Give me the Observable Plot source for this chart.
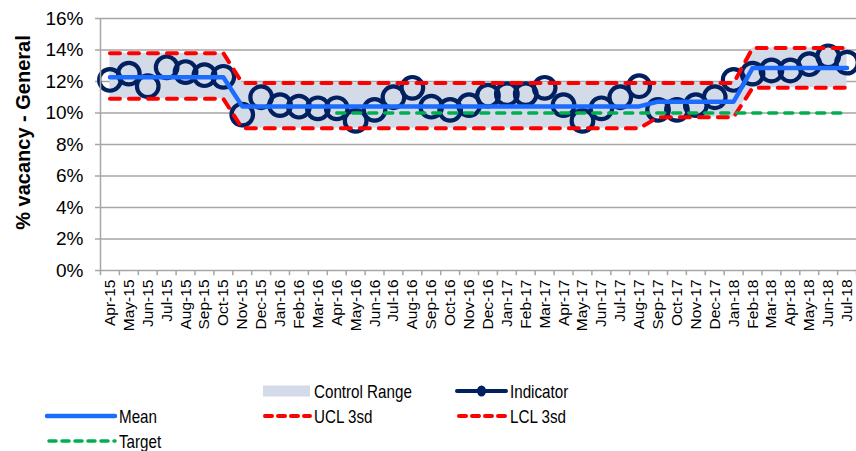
<!DOCTYPE html>
<html><head><meta charset="utf-8">
<script src="https://cdn.jsdelivr.net/npm/d3@7"></script>
<script src="https://cdn.jsdelivr.net/npm/@observablehq/plot@0.6"></script>
<style>
body{margin:0;background:#fff;}
#chart{position:relative;width:856px;height:451px;font-family:Arial,"Liberation Sans",sans-serif;}
#chart svg{display:block;}
</style></head><body><div id="chart"></div>
<script>
const months = ["Apr-15","May-15","Jun-15","Jul-15","Aug-15","Sep-15","Oct-15","Nov-15","Dec-15","Jan-16","Feb-16","Mar-16","Apr-16","May-16","Jun-16","Jul-16","Aug-16","Sep-16","Oct-16","Nov-16","Dec-16","Jan-17","Feb-17","Mar-17","Apr-17","May-17","Jun-17","Jul-17","Aug-17","Sep-17","Oct-17","Nov-17","Dec-17","Jan-18","Feb-18","Mar-18","Apr-18","May-18","Jun-18","Jul-18"];
const indicator = [12.1,12.5,11.7,12.9,12.6,12.4,12.3,
  9.9,11.0,10.5,10.4,10.3,10.3,9.5,10.2,11.0,11.6,10.4,10.2,10.5,11.1,11.2,11.2,11.6,10.5,9.5,10.3,11.0,11.7,
  10.2,10.2,10.5,11.0,12.1,
  12.5,12.7,12.7,13.1,13.6,13.2];
const mean = [12.27,12.27,12.27,12.27,12.27,12.27,12.27,
  10.42,10.42,10.42,10.42,10.42,10.42,10.42,10.42,10.42,10.42,10.42,10.42,10.42,10.42,10.42,10.42,10.42,10.42,10.42,10.42,10.42,10.42,
  10.72,10.72,10.72,10.72,10.72,
  12.85,12.85,12.85,12.85,12.85,12.85];
const ucl = [13.8,13.8,13.8,13.8,13.8,13.8,13.8,
  11.9,11.9,11.9,11.9,11.9,11.9,11.9,11.9,11.9,11.9,11.9,11.9,11.9,11.9,11.9,11.9,11.9,11.9,11.9,11.9,11.9,11.9,
  11.9,11.9,11.9,11.9,11.9,
  14.12,14.12,14.12,14.12,14.12,14.12];
const lcl = [10.9,10.9,10.9,10.9,10.9,10.9,10.9,
  9.03,9.03,9.03,9.03,9.03,9.03,9.03,9.03,9.03,9.03,9.03,9.03,9.03,9.03,9.03,9.03,9.03,9.03,9.03,9.03,9.03,9.03,
  9.73,9.73,9.73,9.73,9.73,
  11.6,11.6,11.6,11.6,11.6,11.6];
const target = [null,null,null,null,null,null,null,null,null,null,null,null,
  10,10,10,10,10,10,10,10,10,10,10,10,10,10,10,10,10,10,10,10,10,10,10,10,10,10,10,10];
const yTicks = [0,2,4,6,8,10,12,14,16];
const yTitle = "% vacancy - General";
const legendItems = [
  {label:"Control Range", kind:"area", col:1, row:0},
  {label:"Indicator", kind:"indicator", col:2, row:0},
  {label:"Mean", kind:"mean", col:0, row:1},
  {label:"UCL 3sd", kind:"ucl", col:1, row:1},
  {label:"LCL 3sd", kind:"lcl", col:2, row:1},
  {label:"Target", kind:"target", col:0, row:2}
];

const C = {area:"#D3DAE8", ind:"#002060", mean:"#1C6DFF", red:"#FF0000", green:"#00B050", grid:"#A6A6A6"};
const idx = d3.range(months.length);
const rows = idx.map(i => ({i, month: months[i], ind: indicator[i], mean: mean[i], ucl: ucl[i], lcl: lcl[i], target: target[i]}));
const bounds = d3.range(months.length + 1).map(i => i - 0.5);
const yLabels = yTicks.map(d => d + "%");

const plot = Plot.plot({
  width: 856, height: 375,
  marginLeft: 100, marginRight: 0, marginTop: 18, marginBottom: 105,
  style: {fontFamily: "Arial, 'Liberation Sans', sans-serif", fontSize: "14px", color: "#000", background: "#fff", overflow: "visible"},
  x: {domain: [-0.5, months.length - 0.5], axis: null},
  y: {domain: [0, 16], ticks: yTicks, tickFormat: d => d + "%", tickSize: 5, tickPadding: 12, label: null},
  marks: [
    Plot.ruleY(yTicks.slice(1), {stroke: C.grid, strokeWidth: 1.5}),
    Plot.areaY(rows, {x: "i", y1: "lcl", y2: "ucl", fill: C.area}),
    Plot.dot(rows, {x: "i", y: "ind", r: 10.8, stroke: C.ind, strokeWidth: 4.2, fill: "none"}),
    Plot.lineY(rows, {x: "i", y: "mean", stroke: C.mean, strokeWidth: 4.5}),
    Plot.lineY(rows, {x: "i", y: "ucl", stroke: C.red, strokeWidth: 4, strokeDasharray: "10,9", strokeLinecap: "round"}),
    Plot.lineY(rows, {x: "i", y: "lcl", stroke: C.red, strokeWidth: 4, strokeDasharray: "10,9", strokeLinecap: "round"}),
    Plot.lineY(rows.filter(d => d.target != null), {x: "i", y: "target", stroke: C.green, strokeWidth: 3.5, strokeDasharray: "8,8", strokeLinecap: "round"}),
    Plot.ruleX([-0.5], {stroke: C.grid, strokeWidth: 1.5}),
    Plot.ruleY([0], {stroke: C.grid, strokeWidth: 1.5}),
    Plot.ruleX(bounds, {x: d => d, y1: 0, y2: -0.33, stroke: C.grid, strokeWidth: 1.5}),
    Plot.text(rows, {x: "i", y: () => 0, text: "month", rotate: -90, textAnchor: "end", lineAnchor: "middle", dy: 9, fontSize: 15.5, fill: "#000"})
  ]
});
const root = document.getElementById("chart");
root.appendChild(plot);

// axis styling
d3.select(plot).selectAll("g[aria-label='y-axis tick'], g[aria-label='y-axis'] line, g[aria-label='y-axis'] path")
  .attr("stroke", C.grid).attr("stroke-width", 1.5);
d3.select(plot).selectAll("text").each(function() {
  if (yLabels.includes(this.textContent)) {
    this.setAttribute("font-size", "19");
    this.style.fontSize = "19px";
    this.setAttribute("fill", "#000");
  }
});

d3.select(plot).append("text")
  .attr("transform", "translate(23,132.5) rotate(-90)")
  .attr("text-anchor", "middle").attr("dominant-baseline", "central")
  .attr("font-weight", "bold").attr("font-size", 20).attr("fill", "#000")
  .attr("font-family", "Arial, 'Liberation Sans', sans-serif")
  .text(yTitle);

// legend below the chart
const colX = [47, 263, 457];
const colW = [68, 47, 49];
const rowY = [16, 41, 66];
const leg = d3.select(root).append("svg").attr("width", 856).attr("height", 76).style("display", "block");
legendItems.forEach(it => {
  const x0 = colX[it.col], x1 = x0 + colW[it.col], y = rowY[it.row];
  const g = leg.append("g");
  if (it.kind === "area") {
    g.append("rect").attr("x", x0).attr("y", y - 5.5).attr("width", x1 - x0).attr("height", 11).attr("fill", C.area);
  } else if (it.kind === "indicator") {
    g.append("line").attr("x1", x0).attr("x2", x1).attr("y1", y).attr("y2", y).attr("stroke", C.ind).attr("stroke-width", 4).attr("stroke-linecap", "round");
    g.append("ellipse").attr("cx", (x0 + x1) / 2).attr("cy", y).attr("rx", 4.5).attr("ry", 5.5).attr("fill", C.ind);
  } else if (it.kind === "mean") {
    g.append("line").attr("x1", x0).attr("x2", x1).attr("y1", y).attr("y2", y).attr("stroke", C.mean).attr("stroke-width", 4.5).attr("stroke-linecap", "round");
  } else if (it.kind === "ucl" || it.kind === "lcl") {
    g.append("line").attr("x1", x0 + 2).attr("x2", x1).attr("y1", y).attr("y2", y).attr("stroke", C.red).attr("stroke-width", 4).attr("stroke-dasharray", "7,6").attr("stroke-linecap", "round");
  } else if (it.kind === "target") {
    g.append("line").attr("x1", x0 + 2).attr("x2", x1).attr("y1", y).attr("y2", y).attr("stroke", C.green).attr("stroke-width", 3.5).attr("stroke-dasharray", "7,6").attr("stroke-linecap", "round");
  }
  const t = g.append("text").attr("x", x1 + 4).attr("y", y).attr("dominant-baseline", "central")
    .attr("font-family", "Arial, 'Liberation Sans', sans-serif")
    .attr("font-size", 18.5).attr("fill", "#000").text(it.label);
  const len = t.node().getComputedTextLength();
  if (len > 0) t.attr("textLength", len * 0.82).attr("lengthAdjust", "spacingAndGlyphs");
});
</script></body></html>
